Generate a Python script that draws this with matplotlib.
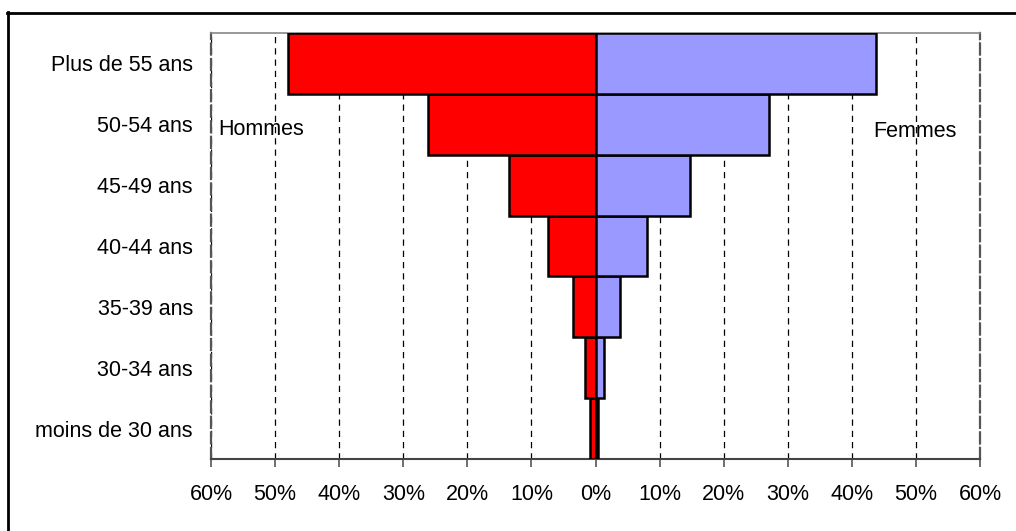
import matplotlib
matplotlib.use('Agg')
import matplotlib.pyplot as plt
from matplotlib.lines import Line2D
from matplotlib.ticker import FuncFormatter

plt.rcParams['font.family'] = ['Liberation Sans', 'DejaVu Sans']

# Tranches d'âge (de bas en haut)
ages = ['moins de 30 ans', '30-34 ans', '35-39 ans', '40-44 ans',
        '45-49 ans', '50-54 ans', 'Plus de 55 ans']
hommes = [0.9, 1.6, 3.5, 7.4, 13.5, 26.1, 48.0]
femmes = [0.4, 1.25, 3.9, 8.1, 14.8, 27.0, 43.7]
xticks = [-60, -50, -40, -30, -20, -10, 0, 10, 20, 30, 40, 50, 60]

fig = plt.figure(figsize=(10.16, 5.31), dpi=100)
ax = fig.add_axes([211 / 1016, 1 - 459 / 531, 769 / 1016, 426 / 531])

pos = range(len(ages))
ax.barh(pos, [-h for h in hommes], height=1.0, color='#FF0000',
        edgecolor='black', linewidth=1.8, zorder=3)
ax.barh(pos, femmes, height=1.0, color='#9999FF',
        edgecolor='black', linewidth=1.8, zorder=3)

ax.set_xlim(-60, 60)
ax.set_ylim(-0.5, len(ages) - 0.5)
ax.set_xticks(xticks)
ax.xaxis.set_major_formatter(FuncFormatter(lambda v, p: f'{abs(v):.0f}%'))
ax.set_yticks(list(pos))
ax.set_yticklabels(ages)
ax.tick_params(axis='y', length=0, pad=13, labelsize=15.5)
ax.tick_params(axis='x', length=6, width=1.2, color='#555555', pad=12, labelsize=15.5)

ax.grid(axis='x', color='black', linestyle=(0, (5, 4)), linewidth=0.9, zorder=1)
ax.grid(axis='y', visible=False)

ax.spines['top'].set_color('#888888')
ax.spines['top'].set_linewidth(1.2)
ax.spines['bottom'].set_color('#444444')
ax.spines['bottom'].set_linewidth(1.5)
for side in ('left', 'right'):
    ax.spines[side].set_color('#555555')
    ax.spines[side].set_linestyle((0, (5, 2)))
    ax.spines[side].set_linewidth(1.6)

ax.text(0.009, 0.773, 'Hommes', transform=ax.transAxes, fontsize=15.5,
        ha='left', va='center')
ax.text(0.969, 0.768, 'Femmes', transform=ax.transAxes, fontsize=15.5,
        ha='right', va='center')

# cadre extérieur
fig.add_artist(Line2D([7.5 / 1016, 7.5 / 1016], [0, 1 - 12 / 531],
                      transform=fig.transFigure, color='black', linewidth=2))
fig.add_artist(Line2D([7 / 1016, 1], [1 - 12.5 / 531, 1 - 12.5 / 531],
                      transform=fig.transFigure, color='black', linewidth=2))

fig.savefig('out.png', dpi=100)
